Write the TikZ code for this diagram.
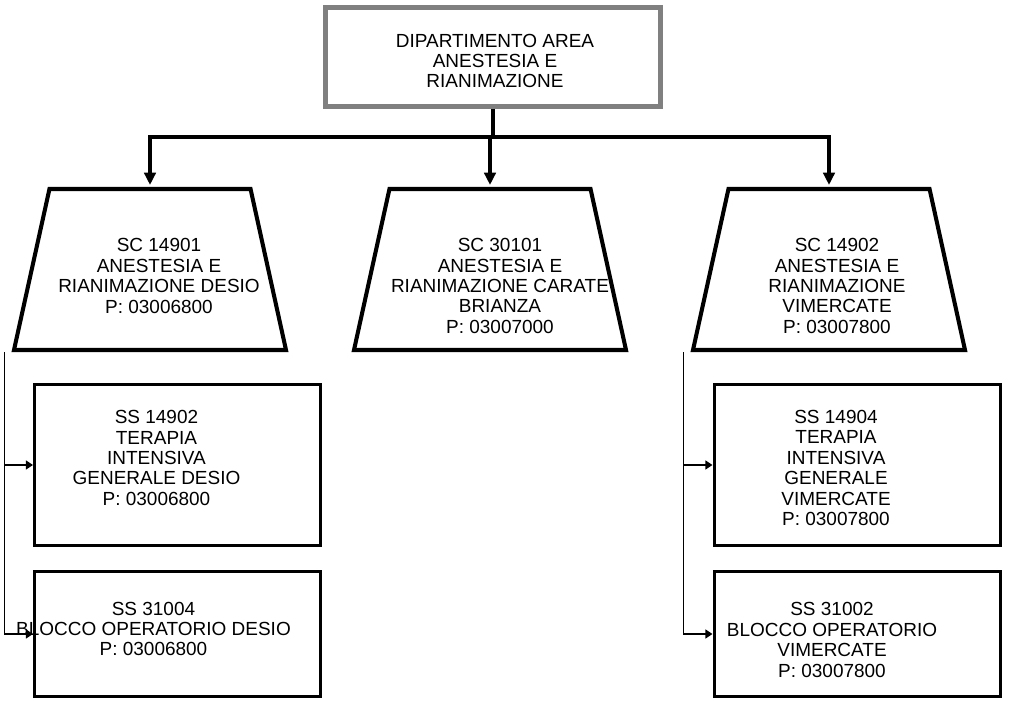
\documentclass[tikz,border=0pt]{standalone}
\usepackage{fontspec}
\setmainfont{Liberation Sans}
\usetikzlibrary{shapes.geometric, arrows.meta, calc}
\definecolor{deptGray}{RGB}{128,128,128}
\tikzstyle{deptBox}   = [rectangle,
                         minimum width=6.7cm,
                         minimum height=1.98cm,
                         inner sep=0pt,
                         draw=deptGray,
                         line width=2.8pt,
                         fill=white]
\tikzstyle{unitTrap}  = [trapezium,
                         trapezium left angle=80,
                         trapezium right angle=80,
                         trapezium stretches=true,
                         minimum width=5.44cm,
                         minimum height=3.22cm,
                         inner sep=2pt,
                         draw=black,
                         line width=2.3pt,
                         fill=white]
\tikzstyle{subBox}    = [rectangle,
                         minimum width=5.72cm,
                         inner sep=0pt,
                         draw=black,
                         line width=1.7pt]
\tikzstyle{unitText}  = [align=center, inner sep=0pt,
                         font=\fontsize{10.8}{11.6}\selectfont]
\tikzstyle{thickLine} = [line width=2.3pt]
\tikzstyle{arrow}     = [line width=2.3pt, -{Triangle[width=6.5pt, length=7pt]}]
\tikzstyle{sideLine}  = [line width=1.1pt]
\tikzstyle{sideArrow} = [line width=1.1pt, -{Triangle[width=5pt, length=4pt]}]

\begin{document}
\begin{tikzpicture}
    \useasboundingbox (0,0) rectangle (20.24,-14);

    \node [deptBox] (DAAR) at (9.86,-1.14) {};
    \node [unitText] at ([shift={(0.04,-0.08)}] DAAR) {DIPARTIMENTO AREA\\ ANESTESIA E\\ RIANIMAZIONE};

    \node [unitTrap] (Desio)     at ([shift={(-6.86,-4.25)}] DAAR) {};
    \node [unitTrap] (Carate)    at ([shift={(-0.06,-4.25)}] DAAR) {};
    \node [unitTrap] (Vimercate) at ([shift={(6.72,-4.25)}] DAAR) {};

    \node [unitText] at ([shift={(0.18,-0.13)}] Desio) {
        SC 14901\\ ANESTESIA E\\ RIANIMAZIONE DESIO\\ P: 03006800};
    \node [unitText] at ([shift={(0.2,-0.33)}] Carate) {
        SC 30101\\ ANESTESIA E\\ RIANIMAZIONE CARATE\\ BRIANZA\\ P: 03007000};
    \node [unitText] at ([shift={(0.16,-0.33)}] Vimercate) {
        SC 14902\\ ANESTESIA E\\ RIANIMAZIONE\\ VIMERCATE\\ P: 03007800};

    \node [subBox, minimum height=3.22cm] (TIGDesio) at ([shift={(0.55,-3.91)}] Desio) {};
    \node [subBox, minimum height=2.5cm]  (BODesio)  at ([shift={(0,-3.38)}] TIGDesio) {};
    \node [subBox, minimum height=3.22cm] (TIGVimercate) at ([shift={(0.56,-3.91)}] Vimercate) {};
    \node [subBox, minimum height=2.5cm]  (BOVimercate)  at ([shift={(0,-3.38)}] TIGVimercate) {};

    \node [unitText] at ([shift={(-0.42,0.14)}] TIGDesio) {
        SS 14902\\ TERAPIA\\ INTENSIVA\\ GENERALE DESIO\\ P: 03006800};
    \node [unitText] at ([shift={(-0.48,0.1)}] BODesio) {
        SS 31004\\ BLOCCO OPERATORIO DESIO\\ P: 03006800};
    \node [unitText] at ([shift={(-0.42,-0.06)}] TIGVimercate) {
        SS 14904\\ TERAPIA\\ INTENSIVA\\ GENERALE\\ VIMERCATE\\ P: 03007800};
    \node [unitText] at ([shift={(-0.5,-0.12)}] BOVimercate) {
        SS 31002\\ BLOCCO OPERATORIO\\ VIMERCATE\\ P: 03007800};

    % department to units
    \coordinate (bar) at ([yshift=-0.57cm] DAAR.south);
    \draw [thickLine] (DAAR.south) -- (bar);
    \draw [thickLine, line cap=rect] (bar -| Desio.north) -- (bar -| Vimercate.north);
    \draw [arrow] (bar -| Desio.north) -- ([yshift=0.04cm] Desio.north);
    \draw [arrow] (bar -| Carate.north) -- ([yshift=0.04cm] Carate.north);
    \draw [arrow] (bar -| Vimercate.north) -- ([yshift=0.04cm] Vimercate.north);

    % units to sub units
    \coordinate (sideD) at ([xshift=-0.14cm] Desio.bottom left corner);
    \coordinate (sideV) at ([xshift=-0.14cm] Vimercate.bottom left corner);
    \draw [sideLine] (sideD) -- (sideD |- BODesio.west);
    \draw [sideArrow] (sideD |- TIGDesio.west) -- (TIGDesio.west);
    \draw [sideArrow] (sideD |- BODesio.west) -- (BODesio.west);
    \draw [sideLine] (sideV) -- (sideV |- BOVimercate.west);
    \draw [sideArrow] (sideV |- TIGVimercate.west) -- (TIGVimercate.west);
    \draw [sideArrow] (sideV |- BOVimercate.west) -- (BOVimercate.west);
\end{tikzpicture}
\end{document}
